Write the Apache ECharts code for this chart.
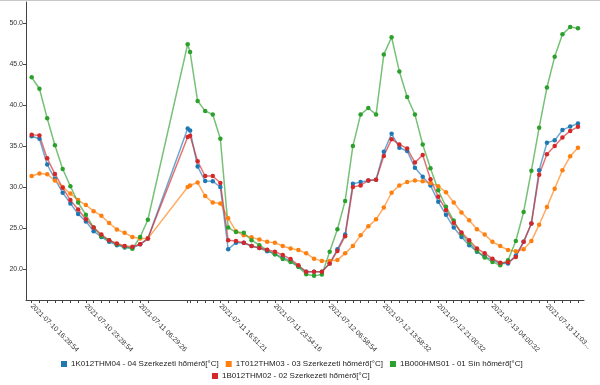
<!DOCTYPE html>
<html>
<head>
<meta charset="utf-8">
<script src="https://cdn.jsdelivr.net/npm/echarts@6/dist/echarts.min.js"></script>
<style>
html,body{margin:0;padding:0;background:#fff;}
#chart{width:600px;height:385px;}
</style>
</head>
<body>
<div id="chart"></div>
<script>
// Timestamps of each reading
const times = [
"2021-07-10 16:28:54","2021-07-10 17:28:54","2021-07-10 18:28:54","2021-07-10 19:28:54",
"2021-07-10 20:28:54","2021-07-10 21:28:54","2021-07-10 22:28:54","2021-07-10 23:28:54",
"2021-07-11 00:28:55","2021-07-11 01:29:02","2021-07-11 02:29:05","2021-07-11 03:29:10",
"2021-07-11 04:29:15","2021-07-11 05:29:20","2021-07-11 06:29:26","2021-07-11 07:29:30",
"2021-07-11 12:38:10","2021-07-11 12:56:40","2021-07-11 13:55:12","2021-07-11 14:53:40",
"2021-07-11 15:52:30","2021-07-11 16:51:21","2021-07-11 17:52:00","2021-07-11 18:52:30",
"2021-07-11 19:53:00","2021-07-11 20:53:20","2021-07-11 21:53:40","2021-07-11 22:54:00",
"2021-07-11 23:54:16","2021-07-12 00:55:00","2021-07-12 01:55:40","2021-07-12 02:56:20",
"2021-07-12 03:57:00","2021-07-12 04:57:40","2021-07-12 05:58:20","2021-07-12 06:58:54",
"2021-07-12 07:58:50","2021-07-12 08:58:45","2021-07-12 09:58:40","2021-07-12 10:58:38",
"2021-07-12 11:58:35","2021-07-12 12:58:33","2021-07-12 13:58:32","2021-07-12 14:58:50",
"2021-07-12 15:59:10","2021-07-12 16:59:30","2021-07-12 17:59:50","2021-07-12 19:00:10",
"2021-07-12 20:00:20","2021-07-12 21:00:32","2021-07-12 22:00:32","2021-07-12 23:00:32",
"2021-07-13 00:00:32","2021-07-13 01:00:32","2021-07-13 02:00:32","2021-07-13 03:00:32",
"2021-07-13 04:00:32","2021-07-13 05:01:00","2021-07-13 06:01:30","2021-07-13 07:02:00",
"2021-07-13 08:02:20","2021-07-13 09:02:40","2021-07-13 10:02:50","2021-07-13 11:03:05",
"2021-07-13 12:03:10","2021-07-13 13:03:20","2021-07-13 14:03:30","2021-07-13 15:03:40"
];

// Tick labels shown on the x axis (every 7th reading)
const tickLabels = [
"2021-07-10 16:28:54","2021-07-10 23:28:54","2021-07-11 06:29:26","2021-07-11 16:51:21",
"2021-07-11 23:54:16","2021-07-12 06:58:54","2021-07-12 13:58:32","2021-07-12 21:00:32",
"2021-07-13 04:00:32","2021-07-13 11:03..."
];
const tickEvery = 7;

const yTicks = [20, 25, 30, 35, 40, 45, 50];

const seriesNames = [
"1K012THM04 - 04 Szerkezeti hőmérő[°C]",
"1T012THM03 - 03 Szerkezeti hőmérő[°C]",
"1B000HMS01 - 01 Sín hőmérő[°C]",
"1B012THM02 - 02 Szerkezeti hőmérő[°C]"
];

const blue = [
36.2,35.9,32.75,31.0,29.3,28.0,26.7,25.8,24.6,23.9,23.3,22.9,22.6,22.55,23.0,23.7,
37.15,36.9,32.5,30.75,30.7,30.0,
22.4,23.2,23.2,22.8,22.55,22.15,21.8,21.4,20.95,20.3,19.65,19.65,19.65,20.65,22.4,24.2,
30.4,30.6,30.8,30.9,34.3,36.5,34.8,34.4,32.35,31.25,30.2,28.2,26.6,25.05,23.9,22.9,
22.1,21.5,21.1,20.65,20.65,21.65,23.3,25.55,32.05,35.4,35.7,36.95,37.4,37.75
];
const orange = [
31.35,31.65,31.55,30.8,30.0,29.2,28.4,27.8,27.05,26.5,25.6,24.8,24.4,23.9,23.7,23.7,
30.0,30.2,30.55,28.9,28.1,28.0,
26.2,24.6,24.1,23.85,23.6,23.3,23.2,22.8,22.5,22.3,21.9,21.25,20.95,20.95,21.1,21.9,
22.8,24.1,25.2,26.05,27.5,29.3,30.2,30.6,30.8,30.7,30.5,30.1,29.35,28.1,26.9,25.95,
24.85,24.2,23.3,22.8,22.3,22.15,22.4,23.4,25.4,27.55,29.8,32.05,33.75,34.8
];
const green = [
43.4,42.0,38.4,35.1,32.2,30.1,28.1,26.6,25.05,24.0,23.5,23.0,22.7,22.45,23.9,26.0,
47.45,46.5,40.5,39.3,38.85,35.9,
25.05,24.5,24.4,23.5,22.9,22.3,21.8,21.2,20.85,20.25,19.35,19.15,19.3,22.1,24.85,28.3,
35.0,38.85,39.65,38.85,46.2,48.3,44.1,41.0,38.85,35.2,32.3,29.6,27.6,25.9,24.25,23.2,
22.2,21.4,20.85,20.45,21.05,23.4,26.95,32.0,37.25,42.15,45.9,48.65,49.55,49.4
];
const red = [
36.4,36.3,33.5,31.6,29.9,28.4,27.25,26.07,25.05,24.2,23.5,23.1,22.8,22.7,23.0,23.7,
36.1,36.25,33.15,31.35,31.35,30.5,
23.5,23.4,23.2,22.8,22.55,22.35,22.1,21.7,21.2,20.45,19.65,19.65,19.65,20.65,22.2,24.0,
30.0,30.2,30.8,30.9,33.8,35.85,35.2,34.7,33.0,33.9,30.95,28.8,27.2,25.65,24.45,23.5,
22.5,21.9,21.25,20.75,20.8,21.45,23.3,25.55,31.5,34.0,35.0,36.05,36.85,37.35
];

const colors = ['#1f77b4', '#ff7f0e', '#2ca02c', '#d62728'];

const toMs = s => Date.parse(s.replace(' ', 'T') + 'Z');
const xs = times.map(toMs);
const labelPos = xs.filter((_, i) => i % tickEvery === 0);
const labelMap = {};
labelPos.forEach((v, i) => { labelMap[v] = tickLabels[i]; });

const xMin = toMs("2021-07-10 15:44:40");
const xMax = toMs("2021-07-13 15:50:30");

const seriesData = [blue, orange, green, red];

const chart = echarts.init(document.getElementById('chart'), null, {renderer: 'canvas'});
chart.setOption({
  animation: false,
  backgroundColor: '#fff',
  color: colors,
  textStyle: {fontFamily: 'Liberation Sans, Arial, sans-serif'},
  grid: {left: 26, right: 16, top: 2, bottom: 85, containLabel: false, outerBoundsMode: 'none'},
  graphic: [{
    type: 'line', shape: {x1: 0, y1: 0.5, x2: 600, y2: 0.5},
    style: {stroke: '#c8c8c8', lineWidth: 1}, silent: true
  }],
  legend: [
    {
      data: seriesNames.slice(0, 3), left: 61, top: 360, icon: 'rect',
      itemWidth: 6, itemHeight: 6, itemGap: 7, padding: 0,
      textStyle: {fontSize: 8, color: '#222', padding: [0, 0, 0, -1]}
    },
    {
      data: seriesNames.slice(3), left: 212, top: 372, icon: 'rect',
      itemWidth: 6, itemHeight: 6, itemGap: 7, padding: 0,
      textStyle: {fontSize: 8, color: '#222', padding: [0, 0, 0, -1]}
    }
  ],
  xAxis: {
    type: 'value', min: xMin, max: xMax,
    axisLine: {show: true, lineStyle: {color: '#444', width: 1}},
    splitLine: {show: false},
    axisTick: {show: true, length: 3, customValues: xs, lineStyle: {color: '#444'}},
    axisLabel: {
      customValues: labelPos, rotate: -45, margin: 5, fontSize: 7, color: '#333',
      formatter: v => labelMap[v] || ''
    }
  },
  yAxis: {
    type: 'value', min: 16.2, max: 52.6,
    axisLine: {show: true, lineStyle: {color: '#444', width: 1}},
    splitLine: {show: false},
    axisTick: {show: true, length: 3, customValues: yTicks, lineStyle: {color: '#444'}},
    axisLabel: {customValues: yTicks, fontSize: 7, color: '#333', margin: 3,
      formatter: v => Number(v).toFixed(1)}
  },
  series: seriesData.map((arr, k) => ({
    name: seriesNames[k], type: 'line',
    data: arr.map((v, i) => [xs[i], v]),
    symbol: 'circle', symbolSize: 4.5, showSymbol: true,
    itemStyle: {color: colors[k]},
    lineStyle: {color: colors[k], width: 1.5, opacity: 0.65},
    emphasis: {disabled: true}
  }))
});
</script>
</body>
</html>
